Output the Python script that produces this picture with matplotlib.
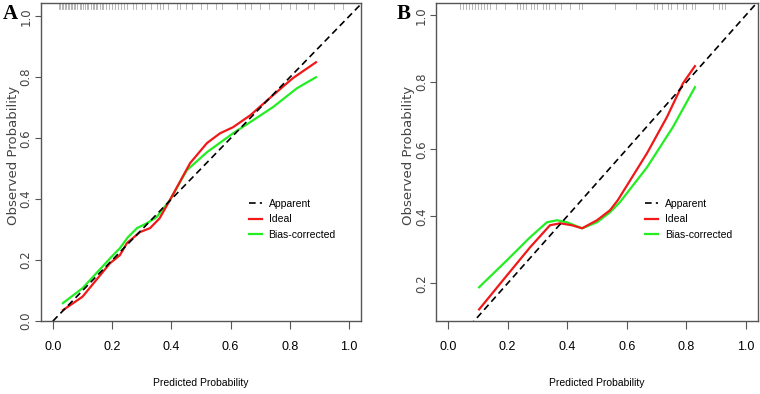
import matplotlib
matplotlib.use("Agg")
import matplotlib.pyplot as plt

# Panel A curves (predicted, observed)
a_ideal_x = [0.034, 0.10, 0.193, 0.226, 0.25, 0.294, 0.328, 0.36, 0.395, 0.463, 0.52, 0.564, 0.608, 0.666, 0.743, 0.81, 0.888]
a_ideal_y = [0.036, 0.08, 0.19, 0.216, 0.256, 0.292, 0.305, 0.337, 0.397, 0.518, 0.584, 0.616, 0.636, 0.675, 0.741, 0.797, 0.849]
a_bias_x = [0.034, 0.10, 0.193, 0.226, 0.253, 0.284, 0.317, 0.35, 0.395, 0.452, 0.52, 0.608, 0.676, 0.743, 0.824, 0.888]
a_bias_y = [0.059, 0.108, 0.206, 0.239, 0.275, 0.305, 0.321, 0.341, 0.397, 0.495, 0.554, 0.616, 0.659, 0.702, 0.764, 0.80]
a_rug = [0.02, 0.025, 0.03, 0.035, 0.04, 0.045, 0.05, 0.055, 0.06, 0.065, 0.07, 0.075, 0.08,
         0.09, 0.095, 0.10, 0.11, 0.115, 0.12, 0.13, 0.135, 0.14, 0.145, 0.15, 0.16, 0.165,
         0.17, 0.18, 0.19, 0.20, 0.21, 0.22, 0.23, 0.24, 0.25, 0.27, 0.28, 0.30, 0.31, 0.33,
         0.35, 0.36, 0.37, 0.39, 0.42, 0.43, 0.45, 0.47, 0.50, 0.52, 0.55, 0.57, 0.62, 0.65,
         0.67, 0.70, 0.73, 0.77, 0.80, 0.82, 0.86, 0.88, 0.95, 0.98]

# Panel B curves
b_ideal_x = [0.104, 0.198, 0.275, 0.342, 0.376, 0.416, 0.45, 0.50, 0.544, 0.57, 0.668, 0.735, 0.789, 0.829]
b_ideal_y = [0.122, 0.224, 0.307, 0.373, 0.379, 0.373, 0.364, 0.388, 0.418, 0.448, 0.588, 0.696, 0.797, 0.848]
b_bias_x = [0.104, 0.198, 0.275, 0.332, 0.366, 0.399, 0.45, 0.50, 0.544, 0.577, 0.668, 0.755, 0.829]
b_bias_y = [0.188, 0.269, 0.337, 0.382, 0.388, 0.382, 0.364, 0.382, 0.412, 0.442, 0.546, 0.666, 0.785]
b_rug = [0.04, 0.05, 0.06, 0.07, 0.08, 0.09, 0.10, 0.11, 0.12, 0.13, 0.14, 0.16, 0.19,
         0.23, 0.24, 0.25, 0.26, 0.28, 0.29, 0.30, 0.32, 0.33, 0.34, 0.36, 0.38, 0.41,
         0.44, 0.45, 0.56, 0.63, 0.69, 0.70, 0.72, 0.74, 0.75, 0.77, 0.79, 0.80, 0.82, 0.83,
         0.89, 0.91, 0.92, 0.93]

ticks = [0.0, 0.2, 0.4, 0.6, 0.8, 1.0]
tick_labels = ["0.0", "0.2", "0.4", "0.6", "0.8", "1.0"]

NARROW = ["Liberation Sans", "DejaVu Sans"]
RED = "#f01818"
GREEN = "#22ee22"
SPINE = "#555555"

fig = plt.figure(figsize=(7.6, 3.94), dpi=100)


def panel(rect, ideal_x, ideal_y, bias_x, bias_y, rug, ylim, letter, letter_x):
    ax = fig.add_axes(rect)
    ax.set_xlim(-0.04, 1.04)
    ax.set_ylim(*ylim)
    ax.plot([0, 1.1], [0, 1.1], color="black", linestyle=(0, (4, 2.5)), linewidth=1.2,
            label="Apparent", zorder=3)
    ax.plot(ideal_x, ideal_y, color=RED, linewidth=1.6, label="Ideal", zorder=2)
    ax.plot(bias_x, bias_y, color=GREEN, linewidth=1.6, label="Bias-corrected", zorder=1)
    # rug of predicted probabilities along top edge
    for r in rug:
        ax.plot([r, r], [1.0, 0.982], transform=ax.get_xaxis_transform(),
                color="#aaaaaa", linewidth=0.6, clip_on=False)
    ax.set_xticks(ticks)
    ax.set_xticklabels(tick_labels, family=NARROW, fontsize=9)
    yt = [t for t in ticks if t >= ylim[0] - 1e-9]
    ax.set_yticks(yt)
    ax.set_yticklabels([f"{t:.1f}" for t in yt], rotation=90, va="center", fontsize=8.5,
                       color="#444444")
    ax.tick_params(axis="x", length=6, width=0.8, color=SPINE, pad=8)
    ax.tick_params(axis="y", length=4, width=0.8, color=SPINE, pad=2)
    for s in ax.spines.values():
        s.set_color(SPINE)
        s.set_linewidth(1.0)
    ax.set_xlabel("Predicted Probability", family=NARROW, fontsize=7.5, labelpad=18)
    ax.set_ylabel("Observed Probability", fontsize=9.5, color="#444444")
    ax.yaxis.set_label_coords(-0.065, 0.52)
    ax.legend(frameon=False, loc="upper left", bbox_to_anchor=(0.62, 0.415),
              handlelength=1.3, handletextpad=0.6, labelspacing=0.55,
              prop={"family": NARROW, "size": 7.5})
    fig.text(letter_x, 0.965, letter, family="Liberation Serif", fontweight="bold",
             fontsize=15, ha="center", va="center")
    return ax


panel([0.054, 0.185, 0.421, 0.807], a_ideal_x, a_ideal_y, a_bias_x, a_bias_y, a_rug,
      (0.0, 1.043), "A", 0.013)
panel([0.574, 0.185, 0.423, 0.807], b_ideal_x, b_ideal_y, b_bias_x, b_bias_y, b_rug,
      (0.087, 1.036), "B", 0.531)

fig.savefig("out.png", dpi=100)
